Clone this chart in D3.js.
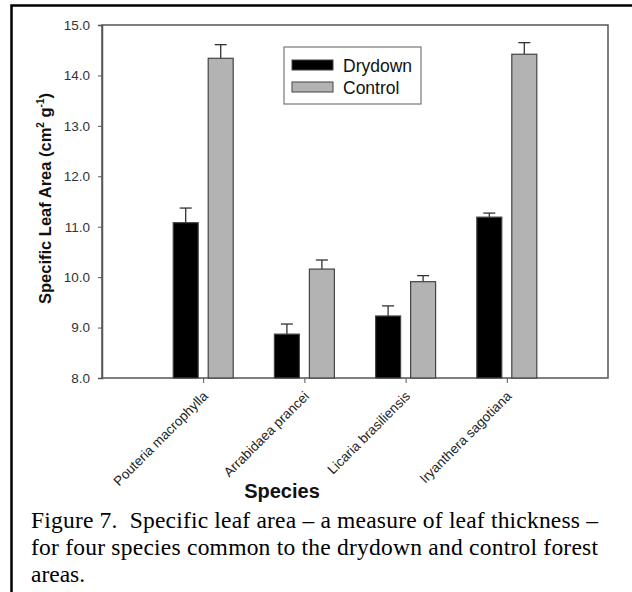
<!DOCTYPE html>
<html>
<head>
	<meta charset="utf-8">
	<title>Specific Leaf Area</title>
	<style>
		body {
			margin: 0;
			background: #fff;
		}
		svg text {
			font-family: Arial, "Liberation Sans", sans-serif;
		}
		.caption {
			font-family: "Times New Roman", "Liberation Serif", serif !important;
			font-size: 23.5px;
			fill: #000;
		}
	</style>
</head>
<body>
	<div id="chart"></div>
	<script src="https://cdn.jsdelivr.net/npm/d3@7"></script>
	<script>
		(function () {

			// data
			var species = ['Pouteria macrophylla', 'Arrabidaea prancei', 'Licaria brasiliensis', 'Iryanthera sagotiana'];
			var drydown = [11.08, 8.87, 9.23, 11.19];
			var drydownErr = [0.29, 0.20, 0.20, 0.08];
			var control = [14.34, 10.16, 9.91, 14.42];
			var controlErr = [0.27, 0.18, 0.12, 0.23];
			var yTicks = [8, 9, 10, 11, 12, 13, 14, 15];
			var captionLines = [
				'Figure 7.\u00a0 Specific leaf area \u2013 a measure of leaf thickness \u2013',
				'for four species common to the drydown and control forest',
				'areas.'
			];

			var W = 632, H = 592;
			var plot = { left: 102, right: 608, top: 25, bottom: 378 };

			var svg = d3.select('#chart')
				.append('svg')
				.attr('width', W)
				.attr('height', H);

			// outer figure frame (runs off the right and bottom)
			svg.append('rect')
				.attr('x', 11.5).attr('y', 5.5)
				.attr('width', 800).attr('height', 800)
				.attr('fill', 'none')
				.attr('stroke', '#000')
				.attr('stroke-width', 2.5);

			// species sit at 1..4 on a 0..5 axis
			var x = d3.scaleLinear().domain([0, 5]).range([plot.left, plot.right]);
			var y = d3.scaleLinear().domain([8, 15]).range([plot.bottom, plot.top]);

			var barW = 25, off = 17.5;

			// plot box
			svg.append('rect')
				.attr('x', plot.left).attr('y', plot.top)
				.attr('width', plot.right - plot.left)
				.attr('height', plot.bottom - plot.top)
				.attr('fill', 'none')
				.attr('stroke', '#555')
				.attr('stroke-width', 1.5);

			var series = [
				{ name: 'Drydown', values: drydown, err: drydownErr, fill: '#000', dx: -off },
				{ name: 'Control', values: control, err: controlErr, fill: '#b3b3b3', dx: off }
			];

			series.forEach(function (s) {
				var g = svg.append('g');
				// error bars
				g.selectAll('line.err')
					.data(s.values)
					.enter().append('line')
					.attr('x1', function (d, i) { return x(i + 1) + s.dx; })
					.attr('x2', function (d, i) { return x(i + 1) + s.dx; })
					.attr('y1', function (d) { return y(d); })
					.attr('y2', function (d, i) { return y(d + s.err[i]); })
					.attr('stroke', '#333').attr('stroke-width', 1.3);
				g.selectAll('line.cap')
					.data(s.values)
					.enter().append('line')
					.attr('x1', function (d, i) { return x(i + 1) + s.dx - 6; })
					.attr('x2', function (d, i) { return x(i + 1) + s.dx + 6; })
					.attr('y1', function (d, i) { return y(d + s.err[i]); })
					.attr('y2', function (d, i) { return y(d + s.err[i]); })
					.attr('stroke', '#333').attr('stroke-width', 1.3);
				// bars
				g.selectAll('rect')
					.data(s.values)
					.enter().append('rect')
					.attr('x', function (d, i) { return x(i + 1) + s.dx - barW / 2; })
					.attr('y', function (d) { return y(d); })
					.attr('width', barW)
					.attr('height', function (d) { return y(8) - y(d); })
					.attr('fill', s.fill)
					.attr('stroke', '#444')
					.attr('stroke-width', 1.2);
			});

			// y axis
			var yAxis = svg.append('g')
				.attr('transform', 'translate(' + plot.left + ',0)')
				.call(d3.axisLeft(y).tickValues(yTicks).tickFormat(d3.format('.1f')).tickSize(4).tickPadding(8));
			yAxis.select('.domain').attr('stroke', '#555').attr('stroke-width', 1.5);
			yAxis.selectAll('.tick line').attr('stroke', '#555');
			yAxis.selectAll('text')
				.attr('font-family', 'Arial, "Liberation Sans", sans-serif')
				.attr('font-size', 13.5)
				.attr('fill', '#333');

			// x axis
			var xAxis = svg.append('g')
				.attr('transform', 'translate(0,' + plot.bottom + ')')
				.call(d3.axisBottom(x).tickValues([1, 2, 3, 4])
					.tickFormat(function (d) { return species[d - 1]; })
					.tickSize(5).tickPadding(0));
			xAxis.select('.domain').remove();
			xAxis.selectAll('.tick line').attr('stroke', '#555');
			xAxis.selectAll('text')
				.attr('font-family', 'Arial, "Liberation Sans", sans-serif')
				.attr('font-size', 13.5)
				.attr('fill', '#222')
				.attr('text-anchor', 'end')
				.attr('dy', null)
				.attr('y', 0)
				.attr('transform', 'translate(5,19) rotate(-45)');

			// axis titles
			svg.append('text')
				.attr('transform', 'translate(51,' + ((plot.top + plot.bottom) / 2 - 3) + ') rotate(-90)')
				.attr('text-anchor', 'middle')
				.attr('font-size', 16.5)
				.attr('font-weight', 'bold')
				.attr('fill', '#111')
				.html('Specific Leaf Area (cm<tspan dy="-7" font-size="10">2</tspan><tspan dy="7"> g</tspan><tspan dy="-7" font-size="10">-1</tspan><tspan dy="7">)</tspan>');

			svg.append('text')
				.attr('x', 282).attr('y', 498)
				.attr('text-anchor', 'middle')
				.attr('font-size', 20)
				.attr('font-weight', 'bold')
				.attr('fill', '#111')
				.text('Species');

			// legend
			var lg = svg.append('g');
			lg.append('rect')
				.attr('x', 284).attr('y', 47)
				.attr('width', 137).attr('height', 57)
				.attr('fill', '#fff')
				.attr('stroke', '#777')
				.attr('stroke-width', 1.2);
			series.forEach(function (s, i) {
				lg.append('rect')
					.attr('x', 292).attr('y', 60 + i * 22)
					.attr('width', 41).attr('height', 10)
					.attr('fill', s.fill)
					.attr('stroke', '#444');
				lg.append('text')
					.attr('x', 343).attr('y', 72 + i * 21.5)
					.attr('font-size', 17.5)
					.attr('fill', '#111')
					.text(s.name);
			});

			// caption
			svg.selectAll('text.caption')
				.data(captionLines)
				.enter().append('text')
				.attr('class', 'caption')
				.attr('x', 31)
				.attr('y', function (d, i) { return 528 + i * 27; })
				.attr('textLength', function (d, i) { return i < 2 ? 567 : null; })
				.attr('lengthAdjust', 'spacing')
				.text(function (d) { return d; });

		})();
	</script>
</body>
</html>
